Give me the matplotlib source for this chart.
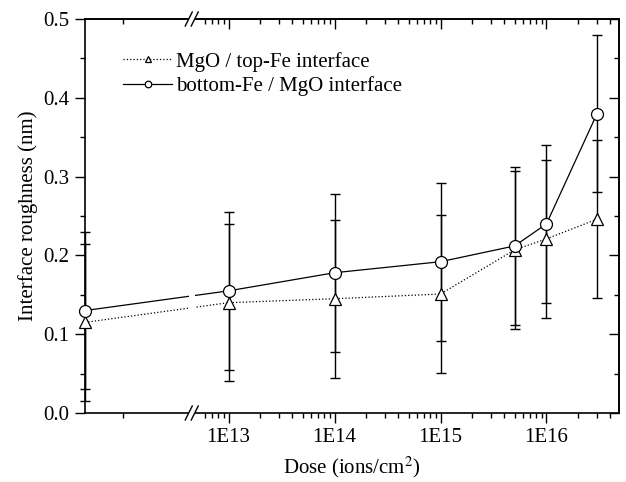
import matplotlib
matplotlib.use("Agg")
import matplotlib.pyplot as plt
from matplotlib.ticker import FixedLocator, FixedFormatter, MultipleLocator
import numpy as np

plt.rcParams['font.family'] = ['Liberation Serif', 'DejaVu Serif']
plt.rcParams['mathtext.fontset'] = 'stix'
plt.rcParams['font.size'] = 15

# data (dose 0 = as-deposited, drawn at the left end of the broken axis)
dose = [0, 1e13, 1e14, 1e15, 5e15, 1e16, 3e16]
top_fe = [0.115, 0.140, 0.145, 0.151, 0.207, 0.221, 0.246]
top_fe_err = [0.100, 0.100, 0.100, 0.100, 0.100, 0.100, 0.100]
bottom_fe = [0.130, 0.155, 0.178, 0.192, 0.212, 0.240, 0.380]
bottom_fe_err = [0.100, 0.100, 0.100, 0.100, 0.100, 0.100, 0.100]

major_ticks = [1e13, 1e14, 1e15, 1e16]
major_labels = ["1E13", "1E14", "1E15", "1E16"]

xmin, xmax = 10**11.646, 10**16.684
x_break = 10**12.653

x_pos = [xmin if d == 0 else d for d in dose]

fig = plt.figure(figsize=(6.26, 4.82), dpi=100)
ax = fig.add_axes([85/626, 1 - 413/482, 534/626, 394/482])
ax.set_xscale('log')
ax.set_xlim(xmin, xmax)
ax.set_ylim(0, 0.5)

ax.errorbar(x_pos, top_fe, yerr=top_fe_err, fmt='none', ecolor='black',
            elinewidth=1.0, capsize=3.6, capthick=1.0, clip_on=False, zorder=2)
ax.errorbar(x_pos, bottom_fe, yerr=bottom_fe_err, fmt='none', ecolor='black',
            elinewidth=1.0, capsize=3.6, capthick=1.0, clip_on=False, zorder=2)
ax.plot(x_pos, top_fe, linestyle=':', color='black', lw=0.9, marker='^',
        ms=9, mfc='white', mec='black', mew=0.9, clip_on=False, zorder=3,
        label="MgO / top-Fe interface")
ax.plot(x_pos, bottom_fe, linestyle='-', color='black', lw=0.9, marker='o',
        ms=8.6, mfc='white', mec='black', mew=0.9, clip_on=False, zorder=3,
        label="bottom-Fe / MgO interface")

# axis break: white gap plus // marks
lo, hi = np.log10(xmin), np.log10(xmax)
bf = (np.log10(x_break) - lo) / (hi - lo)
gap = 3.0 / 534
ax.axvspan(10**(np.log10(x_break) - 3.0 / 534 * (hi - lo)),
           10**(np.log10(x_break) + 3.0 / 534 * (hi - lo)),
           ymin=-0.02, ymax=1.02, color='white', zorder=4, clip_on=False, lw=0)
dx, dy = 3.5 / 534, 7.0 / 394
for yb in (0.0, 1.0):
    for off in (-gap, gap):
        ax.plot([bf + off - dx, bf + off + dx], [yb - dy, yb + dy],
                transform=ax.transAxes, color='black', lw=1.0,
                clip_on=False, zorder=5)

minor = [1e12] + [k * 10.0**d for d in range(12, 17) for k in range(2, 10)
                  if x_break * 1.15 < k * 10.0**d < xmax]

ax.xaxis.set_major_locator(FixedLocator(major_ticks))
ax.xaxis.set_major_formatter(FixedFormatter(major_labels))
ax.xaxis.set_minor_locator(FixedLocator(minor))
ax.xaxis.set_minor_formatter(FixedFormatter([]))
ax.yaxis.set_major_locator(MultipleLocator(0.1))
ax.yaxis.set_minor_locator(MultipleLocator(0.05))
ax.yaxis.set_major_formatter(plt.FuncFormatter(lambda v, p: f"{v:.1f}"))
ax.tick_params(which='both', direction='out', width=1.0)
ax.tick_params(which='major', length=7, pad=4)
ax.tick_params(which='minor', length=3.5)

# top / right ticks pointing the same way as the bottom / left ones
axt = ax.secondary_xaxis('top')
axt.xaxis.set_major_locator(FixedLocator(major_ticks))
axt.xaxis.set_minor_locator(FixedLocator(minor))
axt.tick_params(which='both', direction='in', width=1.0, labeltop=False)
axt.tick_params(which='major', length=7)
axt.tick_params(which='minor', length=3.5)
axr = ax.secondary_yaxis('right')
axr.yaxis.set_major_locator(MultipleLocator(0.1))
axr.yaxis.set_minor_locator(MultipleLocator(0.05))
axr.tick_params(which='both', direction='in', width=1.0, labelright=False)
axr.tick_params(which='major', length=7)
axr.tick_params(which='minor', length=3.5)
for a in (axt, axr):
    for s in a.spines.values():
        s.set_linewidth(1.2)
for s in ax.spines.values():
    s.set_linewidth(1.2)

ax.set_xlabel("Dose (ions/cm$^{2}$)", labelpad=5)
ax.set_ylabel("Interface roughness (nm)", labelpad=4)

ax.legend(loc='upper left', bbox_to_anchor=(0.072, 0.917), frameon=False,
          handlelength=2.35, handletextpad=0.15, labelspacing=0.22,
          markerscale=0.55, borderaxespad=0, borderpad=0)

fig.savefig("out.png", dpi=100)
